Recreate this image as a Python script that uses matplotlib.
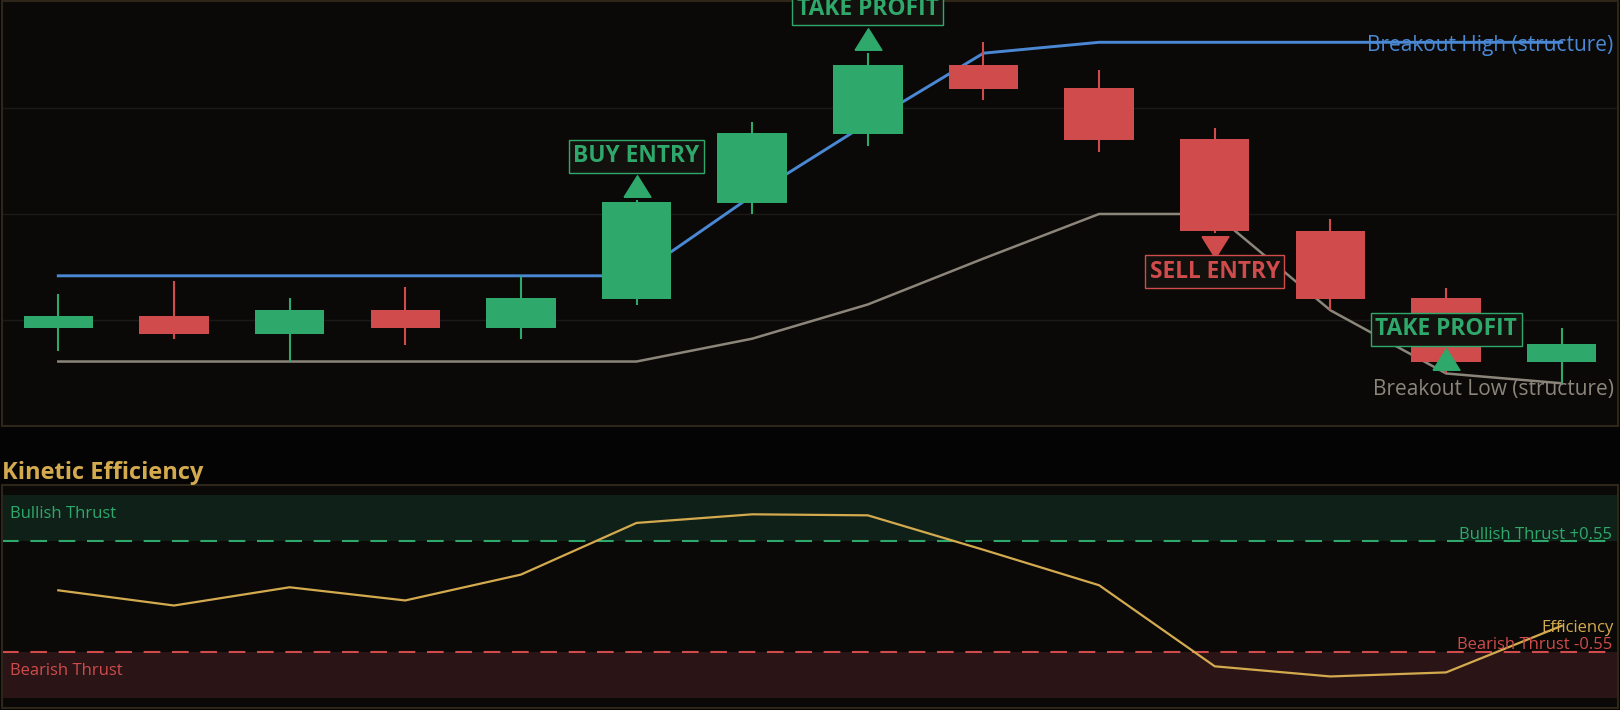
import numpy as np
import matplotlib
matplotlib.use("Agg")
import matplotlib.pyplot as plt
from matplotlib import transforms
from matplotlib.path import Path

# velas (indice 0..13)
opens = [99.69, 100.13, 99.47, 100.36, 99.69, 100.78, 104.42, 107.02, 109.60, 108.73, 106.82, 103.36, 100.81, 98.42]
highs = [100.98, 101.45, 100.81, 101.22, 101.66, 104.50, 107.46, 110.05, 110.46, 109.41, 107.22, 103.80, 101.21, 99.71]
lows = [98.83, 99.27, 98.42, 99.04, 99.27, 100.57, 103.99, 106.55, 108.28, 106.34, 103.28, 100.36, 97.98, 97.60]
closes = [100.13, 99.47, 100.36, 99.69, 100.81, 104.45, 107.04, 109.60, 108.71, 106.79, 103.34, 100.78, 98.42, 99.08]

breakout_high = [101.66, 101.66, 101.66, 101.66, 101.66, 101.66, 104.68, 107.42, 110.05, 110.46, 110.46, 110.46, 110.46, 110.46]
breakout_low = [98.43, 98.43, 98.43, 98.43, 98.43, 98.43, 99.29, 100.58, 102.31, 103.99, 103.99, 100.36, 97.98, 97.61]

efficiency = [0.06, -0.09, 0.09, -0.04, 0.215, 0.725, 0.81, 0.80, 0.46, 0.11, -0.69, -0.79, -0.75, -0.29]
thrust = 0.55

# señales
sig_idx = [5, 7, 10, 12]
sig_text = ["BUY ENTRY", "TAKE PROFIT", "SELL ENTRY", "TAKE PROFIT"]
sig_ref = ["high", "high", "low", "low"]
sig_dir = ["up", "up", "down", "up"]

# colores
BG = "#0a0908"
FIG_BG = "#050404"
GREEN = "#2ea86b"
RED = "#d04b4b"
BLUE = "#4a88d4"
GRAY = "#8c857a"
GOLD = "#d4aa4f"
EDGE = "#2e2719"

plt.rcParams["font.family"] = ["Open Sans", "DejaVu Sans"]

fig = plt.figure(figsize=(16.2, 7.1), dpi=100, facecolor=FIG_BG)
ax = fig.add_axes([0.001, 0.4, 0.998, 0.598])
ax2 = fig.add_axes([0.001, 0.003, 0.998, 0.314])

x = np.arange(len(opens))

for a in (ax, ax2):
    a.set_facecolor(BG)
    a.set_xticks([])
    a.set_yticks([])
    for s in a.spines.values():
        s.set_color(EDGE)
        s.set_linewidth(1.5)
    a.set_xlim(-0.49, 13.49)

# precio
ax.set_ylim(96, 112)
for g in [100, 104, 108]:
    ax.axhline(g, color="#1c1a17", lw=1, zorder=0)

ax.plot(x, breakout_high, color=BLUE, lw=2.1, zorder=2)
ax.plot(x, breakout_low, color=GRAY, lw=1.8, zorder=2)

o = np.array(opens)
c = np.array(closes)
cols = [GREEN if cc >= oo else RED for oo, cc in zip(o, c)]
ax.vlines(x, lows, highs, colors=cols, lw=1.5, zorder=3)
ax.bar(x, np.abs(c - o), bottom=np.minimum(o, c), width=0.6, color=cols, zorder=4)

bt1 = transforms.blended_transform_factory(ax.transAxes, ax.transData)
ax.annotate("Breakout High (structure)", xy=(0.997, breakout_high[-1]), xycoords=bt1, xytext=(0, -2.5),
            textcoords="offset points", color=BLUE, fontsize=15, ha="right", va="center", zorder=6)
ax.annotate("Breakout Low (structure)", xy=(0.997, breakout_low[-1]), xycoords=bt1, xytext=(0, -4.5),
            textcoords="offset points", color=GRAY, fontsize=15, ha="right", va="center", zorder=6)

tri_up = Path([(-1, -0.8), (1, -0.8), (0, 0.8), (-1, -0.8)])
tri_dn = Path([(-1, 0.8), (1, 0.8), (0, -0.8), (-1, 0.8)])

for i, txt, ref, d in zip(sig_idx, sig_text, sig_ref, sig_dir):
    p = highs[i] if ref == "high" else lows[i]
    col = GREEN if d == "up" else RED
    if d == "up":
        off_m, off_t, mk = 10.5, 27.6, tri_up
    else:
        off_m, off_t, mk = -10, -32.2, tri_dn
    tr = transforms.offset_copy(ax.transData, fig=fig, x=0, y=off_m, units="points")
    ax.plot([i], [p], marker=mk, markersize=19.4, color=col, transform=tr, zorder=7, lw=0)
    ax.annotate(txt, xy=(i, p), xytext=(0, off_t), textcoords="offset points",
                ha="center", va="baseline", color=col, fontsize=16.4, fontweight="bold",
                bbox=dict(boxstyle="square,pad=0.2", fc="#13110d", ec=col, lw=1), zorder=8)

# eficiencia
ax2.set_ylim(-1.1, 1.1)
ax2.axhspan(thrust, 1.0, color="#0f2018", lw=0, zorder=0)
ax2.axhspan(-1.0, -thrust, color="#2a1416", lw=0, zorder=0)
ax2.axhline(thrust, color=GREEN, lw=1.5, ls=(0, (8, 5.6)), zorder=1)
ax2.axhline(-thrust, color=RED, lw=1.5, ls=(0, (8, 5.6)), zorder=1)
ax2.plot(x, efficiency, color=GOLD, lw=1.6, zorder=3)

bt = transforms.blended_transform_factory(ax2.transAxes, ax2.transData)
ax2.annotate("Bullish Thrust", xy=(0.005, 1.0), xycoords=bt, xytext=(0, -8), textcoords="offset points",
             color=GREEN, fontsize=12, ha="left", va="top")
ax2.annotate("Bearish Thrust", xy=(0.005, -thrust), xycoords=bt, xytext=(0, -7.5), textcoords="offset points",
             color=RED, fontsize=12, ha="left", va="top")
ax2.annotate("Bullish Thrust +%.2f" % thrust, xy=(0.996, thrust), xycoords=bt, xytext=(0, 1.5),
             textcoords="offset points", color=GREEN, fontsize=12, ha="right", va="baseline")
ax2.annotate("Bearish Thrust -%.2f" % thrust, xy=(0.996, -thrust), xycoords=bt, xytext=(0, 2.5),
             textcoords="offset points", color=RED, fontsize=12, ha="right", va="baseline")
ax2.annotate("Efficiency", xy=(0.997, efficiency[-1]), xycoords=bt, xytext=(0, -4.5),
             textcoords="offset points", color=GOLD, fontsize=12, ha="right", va="baseline")

fig.text(0.001, 1 - 479 / 710, "Kinetic Efficiency", color=GOLD, fontsize=17, fontweight="bold",
         ha="left", va="baseline")

fig.savefig("out.png", dpi=100, facecolor=FIG_BG)
